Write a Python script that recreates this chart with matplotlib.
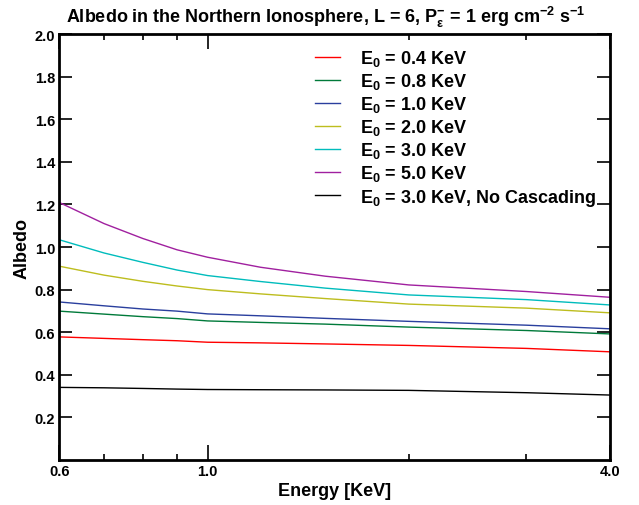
import matplotlib
matplotlib.use("Agg")
import matplotlib.pyplot as plt
from matplotlib.ticker import FixedLocator, NullFormatter

plt.rcParams['font.family'] = ['Liberation Sans', 'DejaVu Sans']
plt.rcParams['font.weight'] = 'bold'
plt.rcParams['mathtext.fontset'] = 'custom'
plt.rcParams['mathtext.rm'] = 'Liberation Sans:bold'
plt.rcParams['mathtext.it'] = 'Liberation Sans:bold'
plt.rcParams['mathtext.bf'] = 'Liberation Sans:bold'

# energy grid [KeV]
energy = [0.6, 0.7, 0.8, 0.9, 1.0, 1.2, 1.5, 2.0, 3.0, 4.0]

# albedo curves
alb_04 = [0.578, 0.571, 0.565, 0.560, 0.553, 0.550, 0.545, 0.538, 0.524, 0.508]
alb_08 = [0.699, 0.685, 0.673, 0.664, 0.653, 0.646, 0.638, 0.624, 0.608, 0.592]
alb_10 = [0.742, 0.724, 0.709, 0.699, 0.686, 0.677, 0.665, 0.651, 0.633, 0.616]
alb_20 = [0.910, 0.868, 0.839, 0.817, 0.800, 0.780, 0.758, 0.732, 0.713, 0.691]
alb_30 = [1.034, 0.972, 0.928, 0.892, 0.866, 0.838, 0.807, 0.775, 0.753, 0.728]
alb_50 = [1.209, 1.110, 1.040, 0.987, 0.952, 0.905, 0.863, 0.822, 0.791, 0.764]
alb_30_nc = [0.341, 0.339, 0.336, 0.333, 0.331, 0.330, 0.329, 0.327, 0.316, 0.305]

labels = [r'E$_0$ = 0.4 KeV', r'E$_0$ = 0.8 KeV', r'E$_0$ = 1.0 KeV',
          r'E$_0$ = 2.0 KeV', r'E$_0$ = 3.0 KeV', r'E$_0$ = 5.0 KeV',
          r'E$_0$ = 3.0 KeV, No Cascading']
colors = ['#ff0000', '#007a3a', '#2a3f9e', '#bdbd1e', '#00bcbc', '#a0209f', '#000000']
series = [alb_04, alb_08, alb_10, alb_20, alb_30, alb_50, alb_30_nc]

fig = plt.figure(figsize=(6.39, 5.06), dpi=100)
ax = fig.add_axes([0.0928, 0.0889, 0.8618, 0.8419])

for y, c, lab in zip(series, colors, labels):
    ax.plot(energy, y, color=c, lw=1.0, label=lab)

ax.set_xscale('log')
ax.set_xlim(0.6, 4.0)
ax.set_ylim(0, 2.0)

ax.xaxis.set_major_locator(FixedLocator([0.6, 1.0, 4.0]))
ax.xaxis.set_minor_locator(FixedLocator([0.7, 0.8, 0.9, 2.0, 3.0]))
ax.xaxis.set_minor_formatter(NullFormatter())
ax.set_xticklabels(['0.6', '1.0', '4.0'])
yt = [0.2, 0.4, 0.6, 0.8, 1.0, 1.2, 1.4, 1.6, 1.8, 2.0]
ax.set_yticks(yt)
ax.set_yticklabels(['%.1f' % v for v in yt])

ax.tick_params(axis='both', which='both', direction='in', top=True, right=True,
               labelsize=10.5, width=1.2, pad=3)
ax.tick_params(axis='y', which='major', length=9.5)
ax.tick_params(axis='x', which='major', length=11)
ax.tick_params(axis='x', which='minor', length=4.5)
for s in ax.spines.values():
    s.set_linewidth(2.0)

ax.set_xlabel('Energy [KeV]', fontsize=13, fontweight='bold', labelpad=3)
ax.set_ylabel('Albedo', fontsize=13, fontweight='bold', labelpad=3)
ax.set_title(r'Albedo in the Northern Ionosphere, L = 6, P$^{-}_{\epsilon}$ = 1 erg cm$^{-2}$ s$^{-1}$',
             fontsize=13, fontweight='bold', pad=9, x=0.483)

leg = ax.legend(loc='upper left', bbox_to_anchor=(0.434, 1.005), frameon=False,
                fontsize=13, handlelength=1.4, handletextpad=1.1, labelspacing=0.17)

fig.savefig('out.png', dpi=100)
